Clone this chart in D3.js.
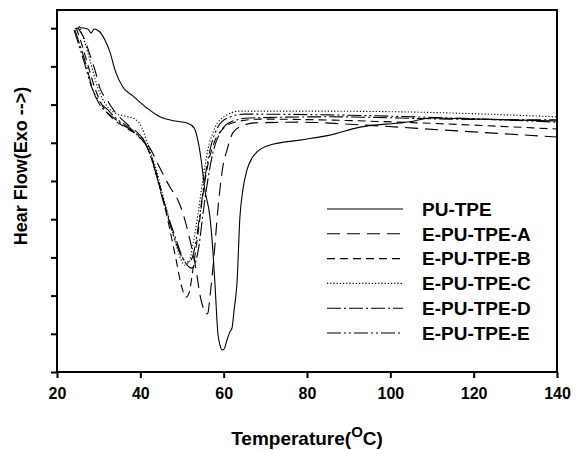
<!DOCTYPE html>
<html lang="en">
<head>
    <meta charset="UTF-8">
    <script src="https://d3js.org/d3.v7.min.js"></script>
    <title>DSC curves</title>
    <style>
        body { margin: 0; background: #fff; }
        svg { font-family: "Liberation Sans", Arial, sans-serif; }
        .tick text { font-size: 16px; font-weight: bold; fill: #000; }
        .tick line { stroke: #000; stroke-width: 2; }
        .legend text { font-size: 19px; font-weight: bold; }
        .title { font-weight: bold; }
    </style>
</head>
<body>
    <div id="chart"></div>
    <script>
        // Data: [temperature in °C, heat flow (arbitrary units)]
        const seriesNames = ["PU-TPE", "E-PU-TPE-A", "E-PU-TPE-B", "E-PU-TPE-C", "E-PU-TPE-D", "E-PU-TPE-E"];

        const puTpe = [[24.3,8.98],[25.5,9.01],[27.4,8.98],[28.2,8.87],[28.9,8.98],[30.3,8.90],[31.5,8.69],
            [32.7,8.38],[33.9,7.91],[35.8,7.46],[38.2,7.23],[41.6,6.91],[44.7,6.68],[48.3,6.57],[51.2,6.52],
            [52.9,6.39],[53.8,6.07],[54.6,5.55],[55.5,4.76],[56.7,4.06],[57.4,3.19],[57.9,2.33],[58.6,1.02],
            [59.1,0.71],[59.6,0.58],[60.1,0.60],[60.8,0.84],[61.5,1.05],[62.0,1.15],[62.5,1.62],[63.2,2.33],
            [63.9,4.06],[64.6,4.76],[65.6,5.29],[66.8,5.60],[68.0,5.76],[71.1,5.94],[78.3,6.07],
            [85.5,6.20],[92.7,6.41],[102.3,6.52],[104.7,6.55],[109.5,6.65],[121.5,6.62],[140,6.57]];

        const epuA = [[25.0,9.01],[26.7,8.69],[27.9,8.30],[29.1,7.91],[30.3,7.43],[32.0,7.12],[33.9,6.81],
            [36.3,6.54],[39.9,6.20],[42.3,5.86],[44.7,5.34],[47.1,4.84],[49.0,4.50],[50.2,4.16],[51.9,3.46],
            [53.4,2.67],[54.3,2.02],[55.3,1.62],[55.8,1.52],[56.2,1.54],[56.7,1.96],[57.7,3.06],[58.6,4.24],
            [59.8,5.37],[60.8,5.81],[62.2,6.26],[64.4,6.44],[67.5,6.52],[78.3,6.54],[92.7,6.47],[111.9,6.34],
            [140,6.15]];

        const epuB = [[24.6,9.01],[26.0,8.56],[27.4,8.04],[29.1,7.43],[30.8,6.99],[33.2,6.65],[36.3,6.41],
            [39.4,6.18],[41.6,5.89],[43.5,5.34],[45.4,4.56],[47.1,3.72],[48.6,2.93],[49.8,2.28],[51.0,1.96],
            [51.7,2.07],[52.6,2.67],[53.8,3.59],[55.0,4.63],[56.2,5.42],[57.7,6.00],[59.6,6.34],[62.7,6.54],
            [68.7,6.62],[83.1,6.60],[107.1,6.52],[140,6.36]];

        const epuC = [[25.3,9.06],[26.5,8.69],[27.9,8.17],[29.8,7.43],[31.8,6.99],[33.9,6.78],[36.3,6.70],
            [38.7,6.62],[40.4,6.39],[41.8,5.94],[43.5,5.42],[45.4,4.63],[47.1,3.93],[48.6,3.32],[49.8,2.93],
            [50.7,2.80],[51.7,2.88],[52.6,3.32],[53.8,4.11],[55.0,5.03],[56.2,5.81],[57.9,6.39],[60.3,6.70],
            [63.9,6.83],[78.3,6.83],[102.3,6.81],[140,6.68]];

        const epuD = [[24.3,8.95],[25.5,8.56],[27.0,8.04],[28.6,7.38],[30.3,6.99],[32.7,6.73],[35.6,6.49],
            [38.7,6.26],[41.1,6.02],[42.8,5.55],[44.7,4.82],[46.6,4.11],[48.6,3.46],[50.2,2.98],[51.7,2.75],
            [52.4,2.72],[53.1,2.83],[54.1,3.32],[55.0,4.11],[56.2,5.03],[57.4,5.73],[59.1,6.26],[61.5,6.54],
            [66.3,6.65],[85.5,6.68],[114.3,6.62],[140,6.60]];

        const epuE = [[24.1,8.95],[25.0,8.64],[26.5,8.12],[28.4,7.43],[30.3,7.07],[32.2,6.86],[34.6,6.60],
            [37.5,6.39],[39.9,6.13],[41.6,5.89],[43.5,5.29],[45.4,4.50],[47.4,3.77],[49.0,3.25],[50.5,2.93],
            [51.7,2.88],[52.6,3.04],[53.6,3.59],[54.6,4.37],[55.8,5.29],[57.0,5.94],[58.6,6.41],[61.0,6.65],
            [65.1,6.75],[85.5,6.73],[114.3,6.65],[140,6.54]];

        const seriesData = [puTpe, epuA, epuB, epuC, epuD, epuE];
        const xTicks = [20, 40, 60, 80, 100, 120, 140];
        const yTicks = [0, 1, 2, 3, 4, 5, 6, 7, 8, 9];

        // line styles per series
        const dashes = ["none", "13,7", "8,5", "1.2,2", "14,3,2,3", "14,3,2,3,2,3"];

        const width = 588;
        const height = 450;
        const margin = { top: 10, right: 31, bottom: 78, left: 57 };

        const svg = d3.select("#chart")
            .append("svg")
            .attr("width", width)
            .attr("height", height);

        const x = d3.scaleLinear()
            .domain([20, 140])
            .range([margin.left, width - margin.right]);

        const y = d3.scaleLinear()
            .domain([0, 9.476])
            .range([height - margin.bottom, margin.top]);

        // Axes
        svg.append("g")
            .attr("transform", `translate(0,${height - margin.bottom})`)
            .call(d3.axisBottom(x).tickValues(xTicks).tickSize(6).tickPadding(10).tickSizeOuter(0))
            .call(g => g.select(".domain").remove());

        svg.append("g")
            .attr("transform", `translate(${margin.left},0)`)
            .call(d3.axisLeft(y).tickValues(yTicks).tickSize(6).tickFormat("").tickSizeOuter(0))
            .call(g => g.select(".domain").remove());

        // Curves
        const line = d3.line()
            .x(d => x(d[0]))
            .y(d => y(d[1]))
            .curve(d3.curveMonotoneX);

        svg.append("g")
            .selectAll("path")
            .data(seriesData)
            .join("path")
            .attr("d", line)
            .attr("fill", "none")
            .attr("stroke", "#000")
            .attr("stroke-width", 1.1)
            .attr("stroke-dasharray", (d, i) => dashes[i]);

        // Frame
        svg.append("rect")
            .attr("x", margin.left)
            .attr("y", margin.top)
            .attr("width", width - margin.left - margin.right)
            .attr("height", height - margin.top - margin.bottom)
            .attr("fill", "none")
            .attr("stroke", "#000")
            .attr("stroke-width", 2);

        // Legend
        const legend = svg.append("g")
            .attr("class", "legend")
            .attr("transform", "translate(327,209)");

        const rows = legend.selectAll("g")
            .data(seriesNames)
            .join("g")
            .attr("transform", (d, i) => `translate(0,${i * 24.8})`);

        rows.append("line")
            .attr("x1", 0)
            .attr("x2", 76)
            .attr("stroke", "#000")
            .attr("stroke-width", 1.1)
            .attr("stroke-dasharray", (d, i) => dashes[i]);

        rows.append("text")
            .attr("x", 95)
            .attr("dy", "0.36em")
            .text(d => d);

        // Axis titles
        svg.append("text")
            .attr("class", "title")
            .attr("x", (margin.left + width - margin.right) / 2)
            .attr("y", 445)
            .attr("text-anchor", "middle")
            .style("font-size", "19px")
            .html(`Temperature(<tspan font-size="15px" dy="-8">O</tspan><tspan dy="8">C)</tspan>`);

        svg.append("text")
            .attr("class", "title")
            .attr("transform", "translate(27,166) rotate(-90)")
            .attr("text-anchor", "middle")
            .style("font-size", "18px")
            .text("Hear Flow(Exo -->)");
    </script>
</body>
</html>
